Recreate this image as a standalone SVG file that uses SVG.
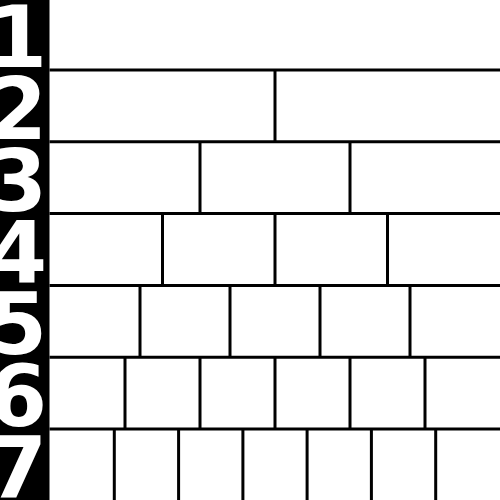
<svg xmlns="http://www.w3.org/2000/svg" width="500" height="500" viewBox="0 0 500 500">
<style>
.num{font-family:"DejaVu Sans",sans-serif;font-weight:bold;font-size:85px;fill:#fff}
.ln{stroke:#000;stroke-width:3;fill:none}
</style>
<rect x="0" y="0" width="500" height="500" fill="#fff"/>
<rect x="0" y="0" width="49.5" height="500" fill="#000"/>
<g id="labels">
<text class="num" x="-12" y="67">1</text>
<text class="num" x="-12" y="138.8">2</text>
<text class="num" x="-12" y="210.6">3</text>
<text class="num" x="-12" y="282.4">4</text>
<text class="num" x="-12" y="354.2">5</text>
<text class="num" x="-12" y="426">6</text>
<text class="num" x="-12" y="497.8">7</text>
</g>
<g id="connectors">
<path class="ln" d="M49.5,70H500M49.5,141.8H500M49.5,213.6H500M49.5,285.4H500M49.5,357.2H500M49.5,429H500"/>
<path class="ln" d="M275,70V141.8"/>
<path class="ln" d="M200,141.8V213.6M350,141.8V213.6"/>
<path class="ln" d="M162.5,213.6V285.4M275,213.6V285.4M387.5,213.6V285.4"/>
<path class="ln" d="M140,285.4V357.2M230,285.4V357.2M320,285.4V357.2M410,285.4V357.2"/>
<path class="ln" d="M125,357.2V429M200,357.2V429M275,357.2V429M350,357.2V429M425,357.2V429"/>
<path class="ln" d="M114.3,429V500M178.6,429V500M242.9,429V500M307.1,429V500M371.4,429V500M435.7,429V500"/>
</g>
</svg>
